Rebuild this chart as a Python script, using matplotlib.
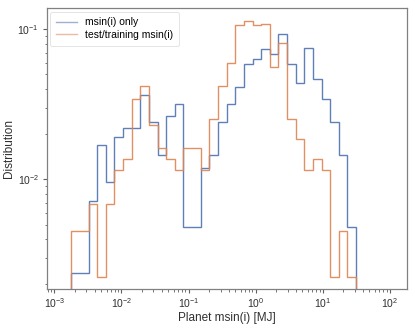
import numpy as np
import matplotlib
matplotlib.use("Agg")
import matplotlib.pyplot as plt

# log-spaced bin edges shared by both histograms
edges = np.logspace(-2.878, 1.5, 35)

# normalised counts per bin
msini_only = [0, 0.00238, 0.00238, 0.0072, 0.0169, 0.00955, 0.0192, 0.0219, 0.0219,
              0.0365, 0.0240, 0.0145, 0.0265, 0.0316, 0.00479, 0.00479, 0.0119,
              0.0145, 0.0240, 0.0316, 0.0414, 0.0584, 0.0634, 0.0739, 0.0684,
              0.0926, 0.0584, 0.0441, 0.0754, 0.0466, 0.0343, 0.0240, 0.0145, 0.00479]
test_training = [0, 0.00452, 0.00452, 0.00681, 0.00224, 0.00681, 0.01154, 0.01366,
                 0.0343, 0.0419, 0.0230, 0.0161, 0.01366, 0.01154, 0.0161, 0.0161,
                 0.01154, 0.0252, 0.0419, 0.0599, 0.1068, 0.1141, 0.1068, 0.1085,
                 0.0558, 0.0814, 0.0252, 0.0185, 0.01154, 0.01366, 0.01154, 0.00224,
                 0.00452, 0.00224]

labels = ["msin(i) only", "test/training msin(i)"]
colors = ["#4C72B0", "#DD8452"]

plt.rcParams['font.family'] = ['Liberation Sans', 'DejaVu Sans']

fig = plt.figure(figsize=(4.15, 3.3), dpi=100)
ax = fig.add_axes([0.1125, 0.1242, 0.8685, 0.8516])

for vals, lab, col in zip([msini_only, test_training], labels, colors):
    ax.stairs(vals, edges, color=col, lw=1.0, alpha=0.9, label=lab)

ax.set_xscale('log')
ax.set_yscale('log')
ax.set_xlim(10**-3.116, 10**2.261)
ax.set_ylim(10**-2.731, 10**-0.858)

for s in ax.spines.values():
    s.set_color('#808080')
    s.set_linewidth(0.9)
ax.tick_params(which='both', colors='#606060', labelcolor='#303030', labelsize=7.5)
ax.tick_params(which='major', length=3, width=0.8, pad=2.5)
ax.tick_params(which='minor', length=1.8, width=0.6)

ax.set_xlabel('Planet msin(i) [MJ]', fontsize=8.5, color='#303030', labelpad=1)
ax.set_ylabel('Distribution', fontsize=8.5, color='#303030', labelpad=2)

leg = ax.legend(loc='upper left', fontsize=7.5, frameon=True, borderpad=0.55,
                handlelength=2.0, handletextpad=0.8, labelspacing=0.25,
                borderaxespad=0.35, fancybox=True)
leg.get_frame().set_edgecolor('#d8d8d8')
leg.get_frame().set_linewidth(0.6)
for h in leg.get_lines():
    h.set_alpha(0.55)
for h in leg.legend_handles:
    h.set_alpha(0.55)

fig.savefig('out.png', dpi=100)
